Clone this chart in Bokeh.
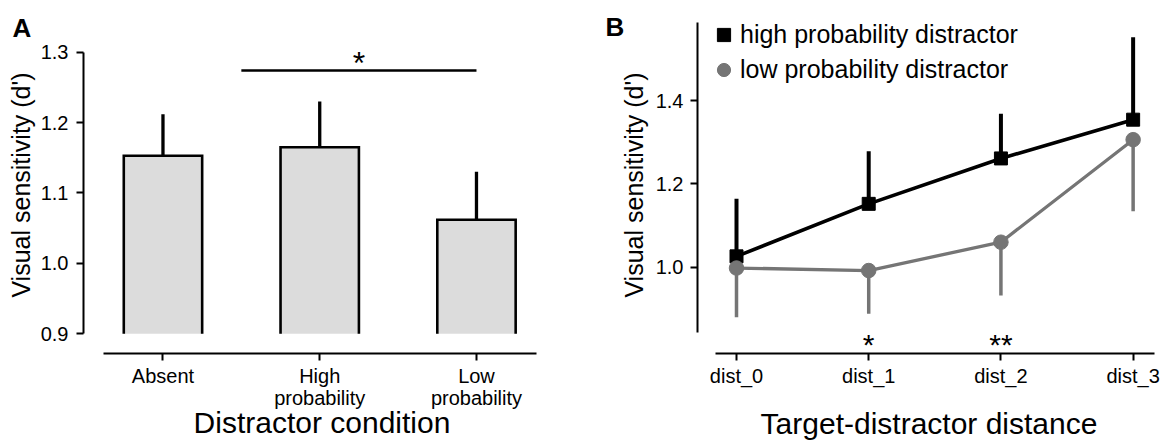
from bokeh.plotting import figure
from bokeh.layouts import row
from bokeh.models import (Range1d, FixedTicker, NumeralTickFormatter, Legend,
                          LegendItem, Label, ColumnDataSource)
from bokeh.core.properties import value
from bokeh.embed import file_html
from bokeh.resources import INLINE

# ---------------- data: panel A ----------------
conditions = ["Absent", "High\nprobability", "Low\nprobability"]
cond_mean = [1.153, 1.165, 1.062]
cond_err_upper = [1.212, 1.230, 1.130]
a_baseline = 0.9
a_yticks = [0.9, 1.0, 1.1, 1.2, 1.3]
a_sig_x = [0.5, 2.0]
a_sig_y = 1.274
a_sig_text = "*"

# ---------------- data: panel B ----------------
distances = ["dist_0", "dist_1", "dist_2", "dist_3"]
high_mean = [1.026, 1.152, 1.261, 1.354]
high_err_upper = [1.164, 1.278, 1.368, 1.552]
low_mean = [0.998, 0.992, 1.060, 1.306]
low_err_lower = [0.880, 0.888, 0.932, 1.134]
b_sig_text = ["", "*", "**", ""]
b_yticks = [1.0, 1.2, 1.4]

FONT = "Liberation Sans"
GRAY = "#757575"
BAR_FILL = "#dcdcdc"
H = 443


def style_axes(p, letter, offset, standoff):
    for ax in p.axis:
        ax.axis_line_width = 2
        ax.axis_line_color = "black"
        ax.major_tick_line_width = 2
        ax.major_tick_line_color = "black"
        ax.major_tick_out = 7
        ax.major_tick_in = 0
        ax.minor_tick_out = 0
        ax.minor_tick_in = 0
        ax.major_label_text_font = FONT
        ax.major_label_text_font_size = "20px"
        ax.major_label_text_color = "black"
        ax.major_label_text_line_height = 1.0
        ax.axis_label_text_font = FONT
        ax.axis_label_text_font_style = "normal"
        ax.axis_label_text_color = "black"
        ax.axis_label_text_line_height = 1.0
    p.grid.visible = False
    p.outline_line_color = None
    p.background_fill_color = None
    p.border_fill_color = None
    p.title.text = letter
    p.title.align = "left"
    p.title.offset = offset
    p.title.standoff = standoff
    p.title.text_font = FONT
    p.title.text_font_style = "bold"
    p.title.text_font_size = "26px"
    p.title.text_color = "black"


# ================= Panel A =================
pa = figure(width=590, height=H, output_backend="svg", toolbar_location=None,
            x_range=Range1d(-0.507, 2.536), y_range=Range1d(0.872, 1.3507),
            min_border_left=83, min_border_right=30, min_border_top=16,
            min_border_bottom=90)
idx_a = list(range(len(conditions)))
w = 0.5
pa.vbar(x=idx_a, width=w, bottom=a_baseline, top=cond_mean,
        fill_color=BAR_FILL, line_color=None)
pa.segment(x0=idx_a, y0=cond_mean, x1=idx_a, y1=cond_err_upper,
           line_color="black", line_width=3.3)
pa.multi_line(xs=[[i - w / 2, i - w / 2, i + w / 2, i + w / 2] for i in idx_a],
              ys=[[a_baseline, m, m, a_baseline] for m in cond_mean],
              line_color="black", line_width=2.6, line_join="miter")
pa.line(x=a_sig_x, y=[a_sig_y, a_sig_y], line_color="black", line_width=2.3)
pa.add_layout(Label(x=sum(a_sig_x) / 2, y=a_sig_y + 0.010, text=a_sig_text,
                    text_align="center", text_baseline="alphabetic",
                    text_font=FONT, text_font_size="32px",
                    text_color="black"))

style_axes(pa, "A", -71, -52)
pa.xaxis.ticker = FixedTicker(ticks=idx_a)
pa.xaxis.major_label_overrides = {i: c for i, c in enumerate(conditions)}
pa.xaxis.bounds = (-0.38, 2.38)
pa.xaxis.major_label_standoff = 4
pa.xaxis.axis_label = "Distractor condition"
pa.xaxis.axis_label_text_font_size = "30px"
pa.xaxis.axis_label_standoff = -6
pa.yaxis.ticker = FixedTicker(ticks=a_yticks)
pa.yaxis.formatter = NumeralTickFormatter(format="0.0")
pa.yaxis.bounds = (a_yticks[0], a_yticks[-1])
pa.yaxis.major_label_standoff = 8
pa.yaxis.axis_label = "Visual sensitivity (d')"
pa.yaxis.axis_label_text_font_size = "25px"
pa.yaxis.axis_label_standoff = 3

# ================= Panel B =================
pb = figure(width=570, height=H, output_backend="svg", toolbar_location=None,
            x_range=Range1d(-0.295, 3.207), y_range=Range1d(0.7929, 1.6016),
            min_border_left=107, min_border_right=0, min_border_top=16,
            min_border_bottom=90)
idx_b = list(range(len(distances)))

pb.line(x=idx_b, y=high_mean, line_color="black", line_width=3.6)
pb.segment(x0=idx_b, y0=high_mean, x1=idx_b, y1=high_err_upper,
           line_color="black", line_width=4)
sq = pb.scatter(x=idx_b, y=high_mean, marker="square", size=13,
                fill_color="black", line_color="black")

pb.line(x=idx_b, y=low_mean, line_color=GRAY, line_width=3.3)
pb.segment(x0=idx_b, y0=low_mean, x1=idx_b, y1=low_err_lower,
           line_color=GRAY, line_width=3.5)
ci = pb.scatter(x=idx_b, y=low_mean, marker="circle", size=14.5,
                fill_color=GRAY, line_color=GRAY)

sig_src = ColumnDataSource(dict(x=idx_b, y=[0.815] * len(idx_b), t=b_sig_text))
pb.text(x="x", y="y", text="t", source=sig_src, text_align="center",
        text_baseline="alphabetic", text_font=value(FONT),
        text_font_size="30px", text_color="black")

legend = Legend(items=[LegendItem(label="high probability distractor", renderers=[sq]),
                       LegendItem(label="low probability distractor", renderers=[ci])],
                location=(10, 266), orientation="vertical",
                glyph_width=33, glyph_height=35, label_standoff=0,
                spacing=0, padding=0, margin=0,
                label_text_font=FONT, label_text_font_size="25px",
                label_text_color="black",
                border_line_color=None, background_fill_alpha=0)
pb.add_layout(legend)

style_axes(pb, "B", -92, -51)
pb.xaxis.ticker = FixedTicker(ticks=idx_b)
pb.xaxis.major_label_overrides = {i: d for i, d in enumerate(distances)}
pb.xaxis.bounds = (-0.16, 3.16)
pb.xaxis.major_label_standoff = 4
pb.xaxis.axis_label = "Target-distractor distance"
pb.xaxis.axis_label_text_font_size = "30px"
pb.xaxis.axis_label_standoff = 17
pb.yaxis.ticker = FixedTicker(ticks=b_yticks)
pb.yaxis.formatter = NumeralTickFormatter(format="0.0")
pb.yaxis.bounds = (0.844, 1.588)
pb.yaxis.major_label_standoff = 7
pb.yaxis.axis_label = "Visual sensitivity (d')"
pb.yaxis.axis_label_text_font_size = "25px"
pb.yaxis.axis_label_standoff = 5

layout = row(pa, pb, spacing=0)
open("out.html", "w").write(file_html(layout, INLINE))
